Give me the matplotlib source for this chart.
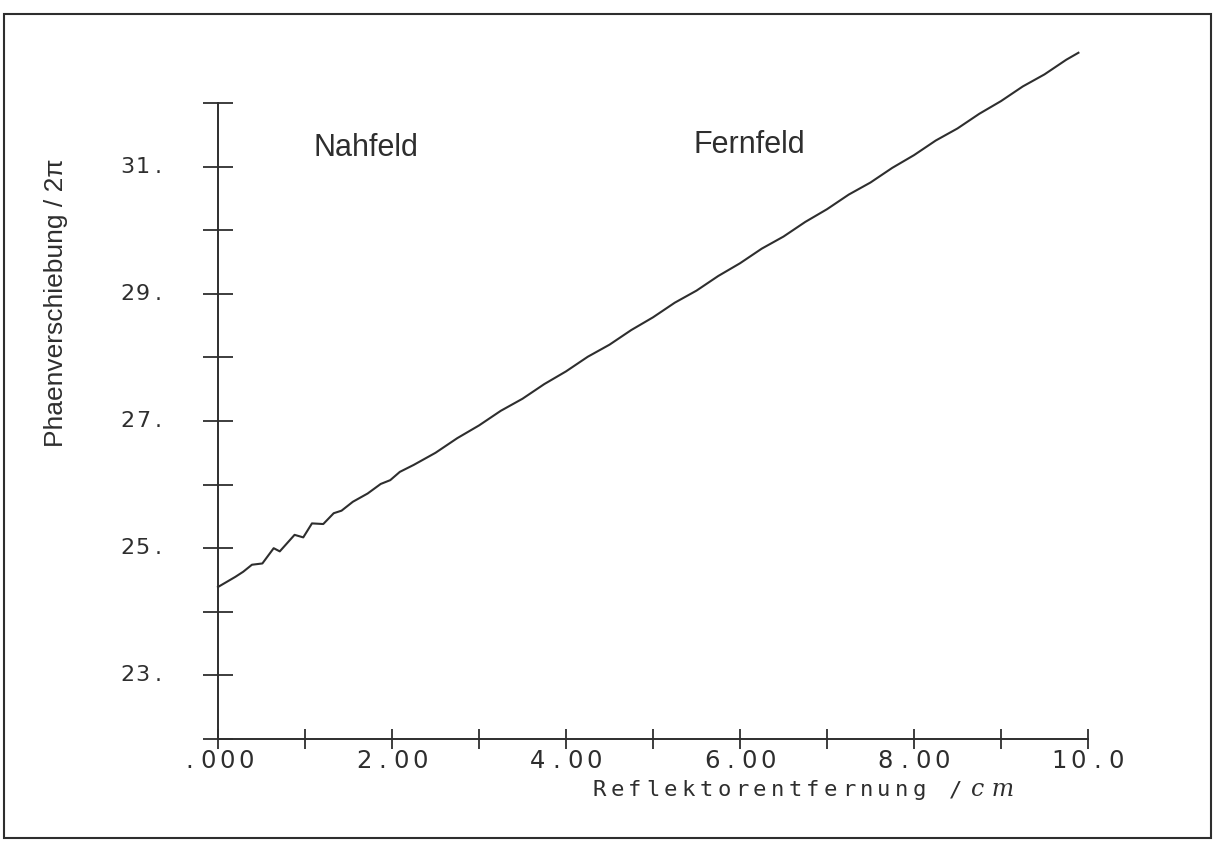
import matplotlib
matplotlib.use('Agg')
import matplotlib.pyplot as plt
from matplotlib.patches import Rectangle

# measured phase shift vs. reflector distance
dist_near = [0.00, 0.10, 0.20, 0.29, 0.39, 0.51, 0.64, 0.71, 0.88, 0.98,
             1.08, 1.21, 1.33, 1.42, 1.55, 1.72, 1.87, 1.98, 2.09]
phase_near = [24.39, 24.47, 24.55, 24.63, 24.74, 24.76, 25.00, 24.95, 25.21, 25.17,
              25.39, 25.38, 25.55, 25.59, 25.73, 25.86, 26.01, 26.07, 26.20]
dist_far = [2.25, 2.50, 2.75, 3.00, 3.25, 3.50, 3.75, 4.00, 4.25, 4.50,
            4.75, 5.00, 5.25, 5.50, 5.75, 6.00, 6.25, 6.50, 6.75, 7.00,
            7.25, 7.50, 7.75, 8.00, 8.25, 8.50, 8.75, 9.00, 9.25, 9.50,
            9.75, 9.89]
phase_far = [26.31, 26.50, 26.73, 26.93, 27.16, 27.35, 27.58, 27.78, 28.01, 28.20,
             28.43, 28.63, 28.86, 29.05, 29.28, 29.48, 29.71, 29.90, 30.13, 30.33,
             30.56, 30.75, 30.98, 31.18, 31.41, 31.60, 31.83, 32.03, 32.26, 32.45,
             32.68, 32.79]

xticks = list(range(0, 11))
yticks = list(range(22, 33))
xlabels = {0: '.000', 2: '2.00', 4: '4.00', 6: '6.00', 8: '8.00', 10: '10.0'}
ylabels = {23: '23.', 25: '25.', 27: '27.', 29: '29.', 31: '31.'}

ink = '#2e2e2e'
digit_font = 'DejaVu Sans'
letter_font = 'DejaVu Sans Mono'
sans = ['Liberation Sans', 'DejaVu Sans']


def plotter_text(ax, x, y, s, size, cell, dx=0, dy=0, align='center', family=digit_font):
    # plotter lettering: every character sits in a fixed-width cell
    n = len(s)
    if align == 'center':
        start = dx - (n - 1) / 2 * cell
    elif align == 'right':
        start = dx - (n - 0.5) * cell
    else:
        start = dx + 0.5 * cell
    for i, ch in enumerate(s):
        ax.annotate(ch, (x, y), xycoords='data', xytext=(start + i * cell, dy),
                    textcoords='offset pixels', ha='center', va='center',
                    fontsize=size, family=family, color=ink,
                    annotation_clip=False)


fig = plt.figure(figsize=(12.13, 8.41), dpi=100)
ax = fig.add_axes([218 / 1213, 102 / 841, 870 / 1213, 636 / 841])

ax.plot(dist_near + dist_far, phase_near + phase_far, color=ink, lw=1.5, clip_on=False)

ax.set_xlim(0, 10)
ax.set_ylim(22, 32)
for side in ['top', 'right']:
    ax.spines[side].set_visible(False)
for side in ['left', 'bottom']:
    ax.spines[side].set_color(ink)
    ax.spines[side].set_linewidth(1.4)

ax.set_xticks(xticks)
ax.set_yticks(yticks)
ax.tick_params(axis='x', direction='inout', length=15, width=1.3, color=ink, labelbottom=False)
ax.tick_params(axis='y', direction='inout', length=21, width=1.3, color=ink, labelleft=False)

for v, s in xlabels.items():
    plotter_text(ax, v, 22, s, 17.5, 19, dy=-22)
for v, s in ylabels.items():
    plotter_text(ax, 0, v, s, 16, 15.5, dx=-52, align='right')

plotter_text(ax, 4.28, 22, 'Reflektorentfernung /', 16, 17.8, dy=-51, align='left',
             family=letter_font)
ax.annotate('c m', (8.9, 22), xycoords='data', xytext=(0, -51), textcoords='offset pixels',
            ha='center', va='center', fontsize=17, family='DejaVu Serif',
            style='italic', color=ink, annotation_clip=False)

ax.text(-0.186, 0.686, 'Phaenverschiebung / 2\u03c0', transform=ax.transAxes,
        rotation=90, ha='center', va='center', fontsize=19, family=sans, color=ink)
ax.text(1.70, 31.29, 'Nahfeld', ha='center', va='center', fontsize=22, family=sans, color=ink)
ax.text(6.11, 31.34, 'Fernfeld', ha='center', va='center', fontsize=22, family=sans, color=ink)

# page frame
fig.patches.append(Rectangle((4 / 1213, 3 / 841), 1207 / 1213, 824 / 841,
                             transform=fig.transFigure, fill=False, lw=1.5, ec=ink))

fig.savefig('out.png', dpi=100)
